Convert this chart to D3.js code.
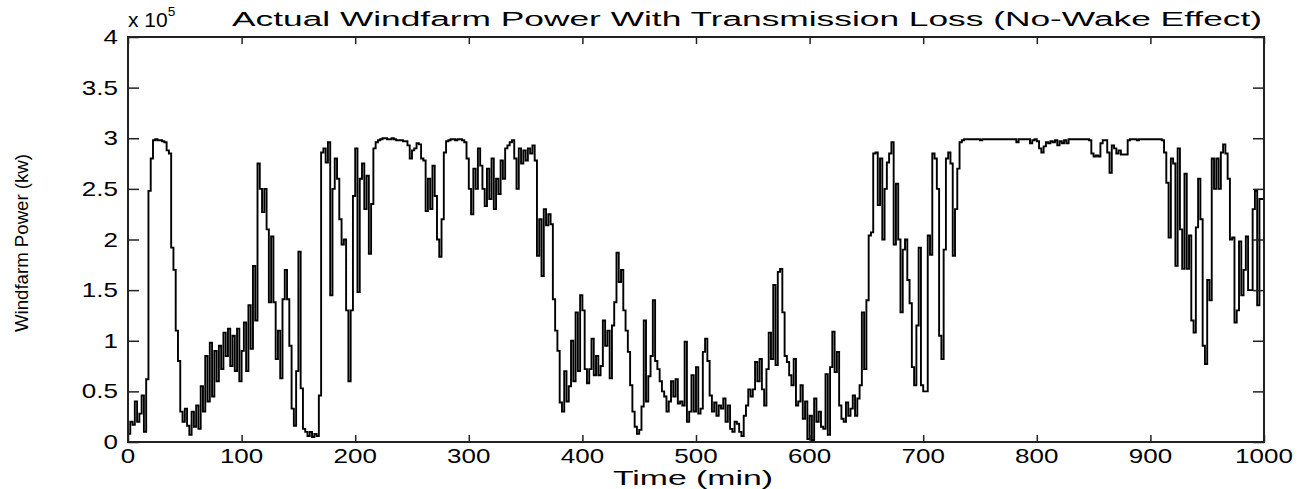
<!DOCTYPE html>
<html>
<head>
<meta charset="utf-8">
<script src="https://cdn.jsdelivr.net/npm/d3@7"></script>
<style>
  body { margin: 0; background: #fff; }
  text { font-family: "Liberation Sans", Arial, sans-serif; fill: #000; }
</style>
</head>
<body>
<div id="chart"></div>
<script>
// sample times (min), one reading every 2 minutes
const timeMin = d3.range(0, 1001, 2);

// windfarm power in units of 10^5 kW
const powerE5 = [
  0.08, 0.2, 0.17, 0.4, 0.2, 0.28, 0.46, 0.1, 0.62, 2.48,
  2.8, 2.98, 2.99, 2.98, 2.98, 2.97, 2.96, 2.88, 2.85, 1.92,
  1.7, 1.1, 0.8, 0.3, 0.2, 0.33, 0.16, 0.07, 0.3, 0.15,
  0.36, 0.13, 0.55, 0.3, 0.85, 0.4, 0.98, 0.45, 0.9, 0.6,
  0.95, 0.72, 1.08, 0.85, 1.12, 0.75, 1.05, 0.7, 1.12, 0.6,
  0.9, 1.18, 0.7, 1.35, 0.92, 1.74, 1.2, 2.75, 2.5, 2.27,
  2.5, 2.1, 1.38, 2.03, 1.38, 0.82, 1.1, 0.63, 1.41, 1.7,
  1.41, 0.95, 0.33, 0.16, 0.7, 1.88, 0.53, 0.13, 0.1, 0.06,
  0.1, 0.05, 0.08, 0.06, 0.46, 2.86, 2.9, 2.76, 2.96, 1.45,
  2.5, 2.8, 2.6, 2.2, 1.95, 2.0, 1.3, 0.6, 1.3, 2.43,
  2.9, 1.48, 2.6, 2.75, 2.3, 2.63, 1.86, 2.35, 2.9, 2.96,
  2.98, 2.99, 3.0, 3.0, 2.99, 2.99, 3.0, 2.99, 2.98, 2.98,
  2.98, 2.97, 2.97, 2.93, 2.8, 2.88, 2.9, 2.95, 2.94, 2.8,
  2.78, 2.28, 2.6, 2.3, 2.73, 2.43, 2.0, 1.83, 2.2, 2.86,
  2.97, 2.98, 2.99, 2.99, 2.98, 2.99, 2.99, 2.98, 2.96, 2.8,
  2.5, 2.25, 2.7, 2.5, 2.9, 2.73, 2.5, 2.33, 2.7, 2.4,
  2.8, 2.3, 2.6, 2.45, 2.78, 2.6, 2.9, 2.93, 2.96, 2.98,
  2.8, 2.5, 2.9, 2.75, 2.88, 2.78, 2.9, 2.85, 2.93, 2.78,
  1.84, 2.2, 1.64, 2.3, 2.14, 2.25, 2.15, 1.41, 1.1, 0.9,
  0.39, 0.3, 0.7, 0.4, 0.55, 1.0, 0.6, 1.28, 0.7, 1.45,
  1.3, 0.72, 0.58, 0.72, 1.02, 0.66, 0.85, 0.66, 0.75, 1.2,
  0.95, 1.1, 0.63, 1.15, 1.38, 1.87, 1.58, 1.7, 1.3, 1.1,
  0.89, 0.56, 0.3, 0.15, 0.08, 0.12, 0.35, 1.2, 0.4, 0.65,
  0.85, 1.4, 0.8, 0.72, 0.6, 0.5, 0.45, 0.3, 0.4, 0.6,
  0.45, 0.62, 0.38, 0.4, 0.36, 0.99, 0.2, 0.3, 0.66, 0.3,
  0.74, 0.28, 0.33, 0.89, 1.02, 0.8, 0.46, 0.3, 0.39, 0.26,
  0.36, 0.33, 0.43, 0.2, 0.36, 0.13, 0.1, 0.2, 0.18, 0.1,
  0.06, 0.26, 0.36, 0.52, 0.45, 0.52, 0.79, 0.6, 0.82, 0.52,
  0.36, 0.72, 1.08, 0.82, 1.55, 0.76, 1.68, 1.71, 1.28, 0.85,
  0.79, 0.66, 0.56, 0.82, 0.36, 0.4, 0.56, 0.23, 0.4, 0.03,
  0.26, 0.02, 0.43, 0.2, 0.3, 0.15, 0.13, 0.67, 0.07, 0.74,
  1.09, 0.69, 0.89, 0.36, 0.23, 0.2, 0.39, 0.26, 0.33, 0.46,
  0.26, 0.43, 0.56, 1.28, 0.72, 1.4, 2.04, 2.07, 2.85, 2.86,
  2.34, 2.8, 2.0, 2.5, 2.76, 2.85, 2.96, 1.95, 2.55, 2.0,
  1.28, 1.9, 2.0, 1.6, 1.37, 0.74, 0.56, 1.15, 1.92, 0.56,
  0.5, 0.5, 2.04, 1.85, 2.85, 2.8, 2.5, 1.05, 0.82, 1.9,
  2.8, 2.86, 2.75, 1.84, 2.3, 2.7, 2.96, 2.98, 2.99, 2.99,
  2.99, 2.99, 2.99, 2.99, 2.99, 2.98, 2.99, 2.99, 2.99, 2.99,
  2.99, 2.99, 2.99, 2.99, 2.99, 2.99, 2.99, 2.99, 2.99, 2.99,
  2.99, 2.96, 2.99, 2.99, 2.99, 2.99, 2.99, 2.95, 2.98, 2.99,
  2.97, 2.9, 2.86, 2.92, 2.96, 2.95, 2.97, 2.96, 2.98, 2.93,
  2.97, 2.95, 2.98, 2.95, 2.99, 2.99, 2.99, 2.99, 2.99, 2.99,
  2.99, 2.99, 2.99, 2.98, 2.85, 2.82, 2.83, 2.82, 2.95, 2.98,
  2.98, 2.86, 2.66, 2.93, 2.9, 2.85, 2.88, 2.84, 2.84, 2.84,
  2.98, 2.99, 2.99, 2.99, 2.98, 2.99, 2.99, 2.99, 2.99, 2.99,
  2.99, 2.99, 2.99, 2.99, 2.99, 2.98, 2.86, 2.56, 2.02, 2.8,
  2.75, 1.74, 2.9, 2.1, 1.71, 2.65, 1.71, 2.04, 1.2, 1.08,
  2.12, 2.6, 2.2, 0.95, 0.77, 1.6, 1.4, 2.8, 2.5, 2.8,
  2.5, 2.86, 2.94, 2.85, 2.6, 2.0, 2.02, 1.18, 1.3, 1.98,
  1.45, 1.7, 2.03, 1.5, 1.5, 2.3, 2.48, 1.35, 2.4, 2.4,
  2.78
];

const xTicks = [0, 100, 200, 300, 400, 500, 600, 700, 800, 900, 1000];
const yTicks = [0, 0.5, 1, 1.5, 2, 2.5, 3, 3.5, 4];
const yTickLabels = ["0", "0.5", "1", "1.5", "2", "2.5", "3", "3.5", "4"];

const data = timeMin.map((t, i) => ({t: t, p: powerE5[i]}));

// the picture is stretched sideways, so text is stretched too
const sx = 1.3;

const margin = {top: 37, right: 40, bottom: 47, left: 128},
    width = 1304 - margin.left - margin.right,
    height = 489 - margin.top - margin.bottom;

const svgRoot = d3.select("#chart")
  .append("svg")
    .attr("width", 1304)
    .attr("height", 489);

const svg = svgRoot.append("g")
    .attr("transform", `translate(${margin.left},${margin.top})`);

const x = d3.scaleLinear().domain([0, 1000]).range([0, width]);
const y = d3.scaleLinear().domain([0, 4]).range([height, 0]);

// the trace
svg.append("path")
  .datum(data)
  .attr("fill", "none")
  .attr("stroke", "#000")
  .attr("stroke-width", 1.9)
  .attr("d", d3.line()
    .x(d => x(d.t))
    .y(d => y(d.p))
    .curve(d3.curveStepAfter));

// inward ticks on all four sides, like the matlab box
svg.append("g")
  .attr("transform", `translate(0,${height})`)
  .call(d3.axisBottom(x).tickValues(xTicks).tickSize(-7).tickSizeOuter(0).tickFormat(""));
svg.append("g")
  .call(d3.axisTop(x).tickValues(xTicks).tickSize(-7).tickSizeOuter(0).tickFormat(""));
svg.append("g")
  .call(d3.axisLeft(y).tickValues(yTicks).tickSize(-11).tickSizeOuter(0).tickFormat(""));
svg.append("g")
  .attr("transform", `translate(${width},0)`)
  .call(d3.axisRight(y).tickValues(yTicks).tickSize(-11).tickSizeOuter(0).tickFormat(""));
svg.selectAll(".domain").remove();
svg.selectAll(".tick line").attr("stroke", "#222").attr("stroke-width", 1.5);

svg.append("rect")
  .attr("x", 0).attr("y", 0)
  .attr("width", width).attr("height", height)
  .attr("fill", "none")
  .attr("stroke", "#222")
  .attr("stroke-width", 2);

// tick labels
svg.append("g").selectAll("text")
  .data(xTicks)
  .join("text")
    .attr("transform", d => `translate(${x(d)},${height + 21}) scale(${sx},1)`)
    .attr("text-anchor", "middle")
    .attr("font-size", 20)
    .text(d => d);

svg.append("g").selectAll("text")
  .data(yTicks)
  .join("text")
    .attr("transform", d => `translate(-10,${y(d) + 7}) scale(${sx},1)`)
    .attr("text-anchor", "end")
    .attr("font-size", 20)
    .text((d, i) => yTickLabels[i]);

// exponent "x 10^5" above the y axis
const expo = svgRoot.append("text")
  .attr("transform", "translate(128,27) scale(1.05,1)")
  .style("font-size", "20px");
expo.append("tspan").text("x 10");
expo.append("tspan")
  .attr("dy", -11)
  .style("font-size", "13px")
  .text("5");

// title
svgRoot.append("text")
  .attr("x", 232)
  .attr("y", 26)
  .attr("font-size", 20)
  .attr("textLength", 1030)
  .attr("lengthAdjust", "spacingAndGlyphs")
  .text("Actual Windfarm Power With Transmission Loss (No-Wake Effect)");

// axis labels
svgRoot.append("text")
  .attr("x", 613)
  .attr("y", 485)
  .attr("font-size", 20)
  .attr("textLength", 160)
  .attr("lengthAdjust", "spacingAndGlyphs")
  .text("Time (min)");

svgRoot.append("text")
  .attr("transform", "translate(28,332) rotate(-90)")
  .attr("font-size", 19)
  .attr("textLength", 178)
  .attr("lengthAdjust", "spacingAndGlyphs")
  .text("Windfarm Power (kw)");
</script>
</body>
</html>
